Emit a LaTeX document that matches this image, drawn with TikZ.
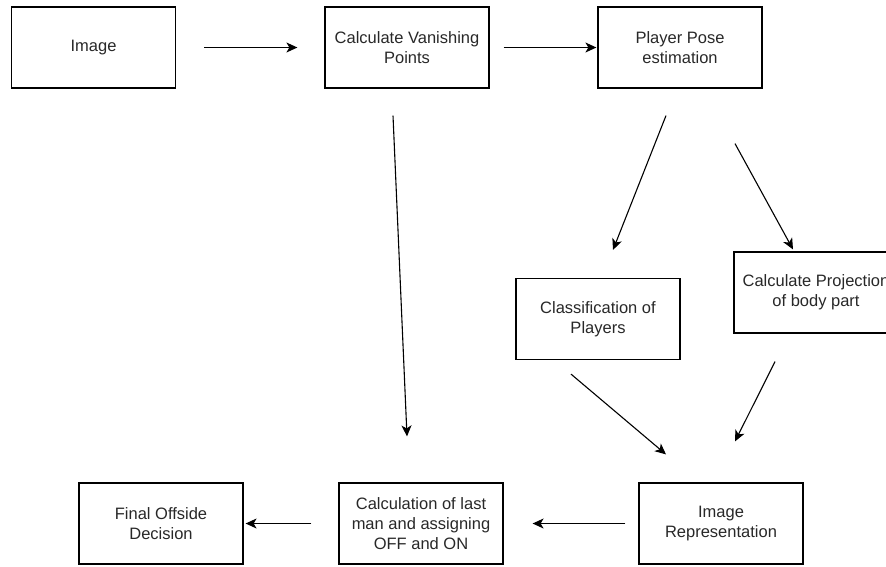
\documentclass[tikz,border=0pt]{standalone}
\usepackage{fontspec}
\setmainfont{Liberation Sans}
\definecolor{inkgray}{RGB}{40,40,40}
\usetikzlibrary{calc, arrows.meta}

\begin{document}
\begin{tikzpicture}[
    x=1pt, y=-1pt,
    stage/.style={draw=black, line width=1.2pt, minimum width=164pt, minimum height=81pt,
      inner sep=4pt, font=\fontsize{16.5}{20}\selectfont, text=inkgray, align=center},
    flow/.style={-{Stealth[length=11pt, width=10pt, inset=3pt]}, line width=1.1pt},
  ]
    \path[use as bounding box, clip] (0,0) rectangle (886,566);
    \node[stage] (img) at (93.5, 47.5) {Image};
    \node[stage] (cvp) at (407, 47.5) {Calculate Vanishing\\Points};
    \node[stage] (ppe) at (680, 47.5) {Player Pose\\estimation};
    \node[stage] (cls) at (598, 319) {Classification of\\Players};
    \node[stage] (prj) at (816, 292.5) {Calculate Projection\\of body part};
    \node[stage] (rep) at (721, 523.5) {Image\\Representation};
    \node[stage] (calc) at (421, 523.5) {Calculation of last\\man and assigning\\OFF and ON};
    \node[stage] (fin) at (161, 523.5) {Final Offside\\Decision};
    \draw[flow] ($(img.east)+(28,0)$) -- ($(cvp.west)+(-27,0)$);
    \draw[flow] ($(cvp.east)+(14,0)$) -- ($(ppe.west)+(-1,0)$);
    \draw[flow] ($(cvp.south)+(-14,27)$) -- ($(calc.north)+(-14,-46)$);
    \draw[flow] ($(ppe.south)+(-14,27)$) -- ($(cls.north)+(15,-28)$);
    \draw[flow] ($(ppe.south)+(55,55)$) -- ($(prj.north)+(-23,-2)$);
    \draw[flow] ($(cls.south)+(-27,14)$) -- ($(rep.north)+(-55,-28)$);
    \draw[flow] ($(prj.south)+(-41,28)$) -- ($(rep.north)+(14,-41)$);
    \draw[flow] ($(rep.west)+(-13,0)$) -- ($(calc.east)+(29,0)$);
    \draw[flow] ($(calc.west)+(-27,0)$) -- ($(fin.east)+(2,0)$);
  \end{tikzpicture}
\end{document}
